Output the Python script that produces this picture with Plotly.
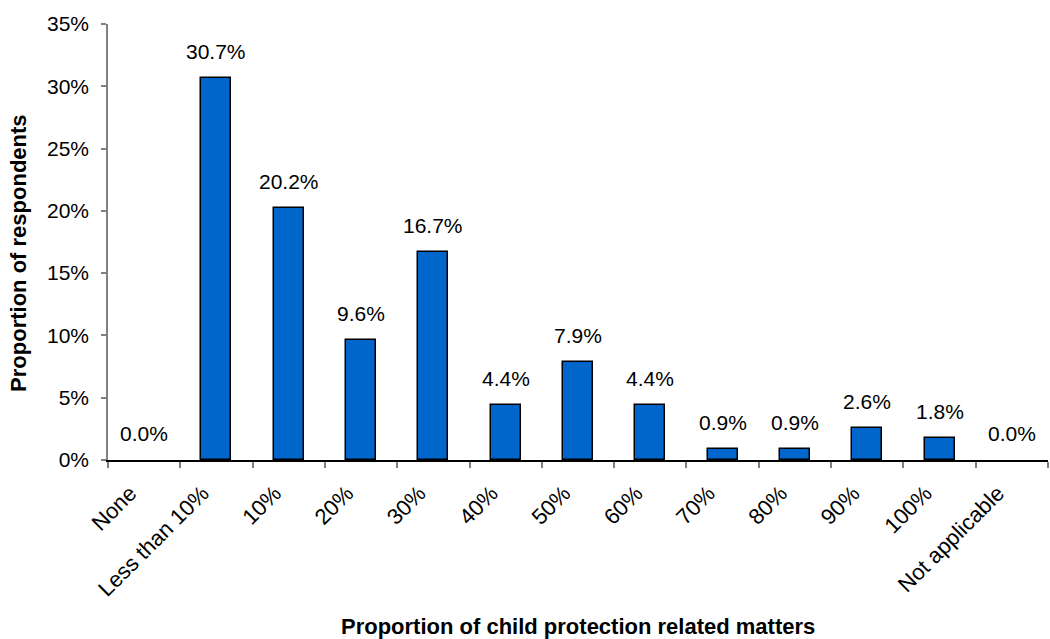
import plotly.graph_objects as go

categories = ["None", "Less than 10%", "10%", "20%", "30%", "40%", "50%",
              "60%", "70%", "80%", "90%", "100%", "Not applicable"]
shares = [0.0, 30.7, 20.2, 9.6, 16.7, 4.4, 7.9, 4.4, 0.9, 0.9, 2.6, 1.8, 0.0]
y_ticks = [0, 5, 10, 15, 20, 25, 30, 35]

FONT = "Liberation Sans, Arial, sans-serif"

# empty categories get no outline so nothing is drawn on the baseline
outline = [1.5 if v > 0 else 0 for v in shares]

fig = go.Figure(go.Bar(
    x=categories,
    y=shares,
    width=0.415,
    marker=dict(color="#0066CC", line=dict(color="#000000", width=outline)),
))

# value labels above each bar
for cat, val in zip(categories, shares):
    fig.add_annotation(
        x=cat, y=val, text=f"{val:.1f}%", showarrow=False,
        yanchor="bottom", yshift=13,
        font=dict(family=FONT, size=21, color="#000000"),
    )

# axis titles
fig.add_annotation(
    x=0.5, y=-0.383, xref="paper", yref="paper",
    text="<b>Proportion of child protection related matters</b>",
    showarrow=False, xanchor="center", yanchor="middle",
    font=dict(family=FONT, size=22, color="#000000"),
)
fig.add_annotation(
    x=-0.0947, y=0.475, xref="paper", yref="paper",
    text="<b>Proportion of respondents</b>", textangle=-90,
    showarrow=False, xanchor="center", yanchor="middle",
    font=dict(family=FONT, size=22, color="#000000"),
)

fig.update_layout(
    width=1050, height=639,
    margin=dict(l=108, r=2, t=24, b=179),
    paper_bgcolor="white", plot_bgcolor="white",
    showlegend=False,
    bargap=0,
    font=dict(family=FONT, size=21, color="#000000"),
)

fig.update_xaxes(
    type="category",
    tickangle=-45,
    tickson="boundaries",
    ticks="outside", ticklen=6, tickcolor="#808080", tickwidth=1.5,
    showline=True, linecolor="#000000", linewidth=1.5,
    showgrid=False,
    tickfont=dict(family=FONT, size=22),
    ticklabelstandoff=10,
    ticklabelshift=-14,
    automargin=False,
)

fig.update_yaxes(
    range=[0, 35],
    tickvals=y_ticks,
    ticktext=[f"{v}%" for v in y_ticks],
    ticks="outside", ticklen=5, tickcolor="#808080", tickwidth=1.5,
    showline=True, linecolor="#808080", linewidth=1.5,
    showgrid=False, zeroline=False,
    tickfont=dict(family=FONT, size=21),
    ticklabelstandoff=8,
    automargin=False,
)

fig.write_html("out.html")
